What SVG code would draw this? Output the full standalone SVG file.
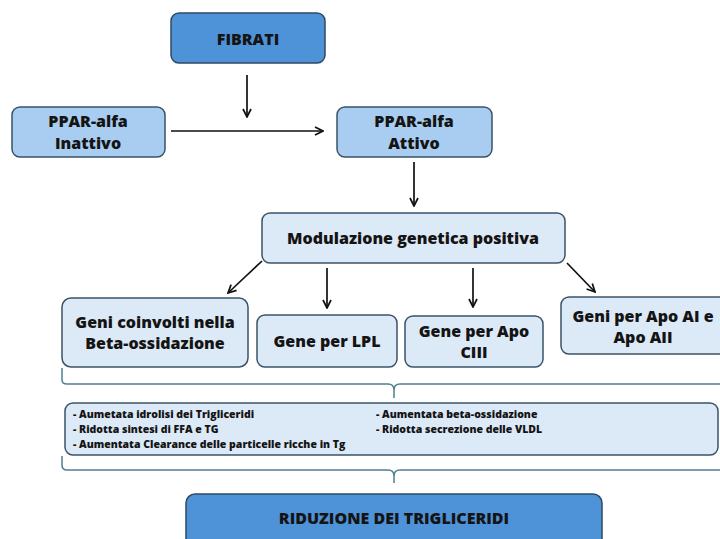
<svg xmlns="http://www.w3.org/2000/svg" width="720" height="539" viewBox="0 0 720 539">
<defs>
<style>
.dark{fill:#4E92D8;stroke:#2E4A63;stroke-width:1.5}
.mid{fill:#A9CDF0;stroke:#3A5368;stroke-width:1.5}
.light{fill:#DCE9F7;stroke:#3A5368;stroke-width:1.5}
text{font-family:"Open Sans","Liberation Sans",Arial,sans-serif;font-weight:800;fill:#141414;text-anchor:middle}
.t{font-size:16px}
.s{font-size:10.5px;text-anchor:start}
.conn line{stroke:#111;stroke-width:1.7;marker-end:url(#ah)}
.brace{fill:none;stroke:#4F8090;stroke-width:1.5}
</style>
<marker id="ah" viewBox="0 0 10 10" refX="9" refY="5" markerWidth="10" markerHeight="10" markerUnits="userSpaceOnUse" orient="auto">
<path d="M1,1 L9,5 L1,9" fill="none" stroke="#111" stroke-width="1.7"/>
</marker>
</defs>
<rect width="720" height="539" fill="#fff"/>
<g id="fibrati"><rect class="dark" x="171" y="13" width="154" height="50" rx="8"/><text class="t" x="248" y="45">FIBRATI</text></g>
<g id="ppar-inattivo"><rect class="mid" x="12" y="107" width="153" height="50" rx="8"/><text class="t" x="88" y="127">PPAR-alfa</text><text class="t" x="88" y="149">Inattivo</text></g>
<g id="ppar-attivo"><rect class="mid" x="337" y="107" width="155" height="50" rx="8"/><text class="t" x="414" y="127">PPAR-alfa</text><text class="t" x="414" y="149">Attivo</text></g>
<g id="modulazione"><rect class="light" x="262" y="213" width="303" height="50" rx="8"/><text class="t" x="413" y="244">Modulazione genetica positiva</text></g>
<g id="geni-beta"><rect class="light" x="62" y="298" width="186" height="69" rx="9"/><text class="t" x="155" y="328">Geni coinvolti nella</text><text class="t" x="155" y="349">Beta-ossidazione</text></g>
<g id="gene-lpl"><rect class="light" x="257" y="315" width="140" height="52" rx="8"/><text class="t" x="327" y="347">Gene per LPL</text></g>
<g id="gene-apociii"><rect class="light" x="405" y="316" width="138" height="51" rx="8"/><text class="t" x="474" y="337">Gene per Apo</text><text class="t" x="474" y="358">CIII</text></g>
<g id="geni-apoai"><rect class="light" x="561" y="297" width="166" height="57" rx="8"/><text class="t" x="643" y="322">Geni per Apo AI e</text><text class="t" x="643" y="343">Apo AII</text></g>
<g id="effetti"><rect class="light" x="65" y="403" width="653" height="52" rx="8"/>
<text class="s" x="73" y="418">- Aumetata idrolisi dei Trigliceridi</text>
<text class="s" x="73" y="433">- Ridotta sintesi di FFA e TG</text>
<text class="s" x="73" y="448">- Aumentata Clearance delle particelle ricche in Tg</text>
<text class="s" x="376" y="418">- Aumentata beta-ossidazione</text>
<text class="s" x="376" y="433">- Ridotta secrezione delle VLDL</text>
</g>
<g id="riduzione"><rect class="dark" x="186" y="494" width="416" height="60" rx="9"/><text class="t" x="394" y="524">RIDUZIONE DEI TRIGLICERIDI</text></g>
<g id="connectors" class="conn">
<line x1="247" y1="75" x2="247" y2="117"/>
<line x1="171" y1="131" x2="323" y2="131"/>
<line x1="414" y1="162" x2="414" y2="206"/>
<line x1="262" y1="261" x2="228" y2="293"/>
<line x1="327" y1="268" x2="327" y2="308"/>
<line x1="473" y1="268" x2="473" y2="307"/>
<line x1="567" y1="263" x2="595" y2="292"/>
</g>
<g id="braces" class="brace">
<path d="M62,368 V380 Q62,384 67,384 H388 Q394,384 394,390 V398 M394,390 Q394,384 400,384 H720"/>
<path d="M62,456 V465 Q62,470 67,470 H388 Q394,470 394,476 V483 M394,476 Q394,470 400,470 H720"/>
</g>
</svg>
